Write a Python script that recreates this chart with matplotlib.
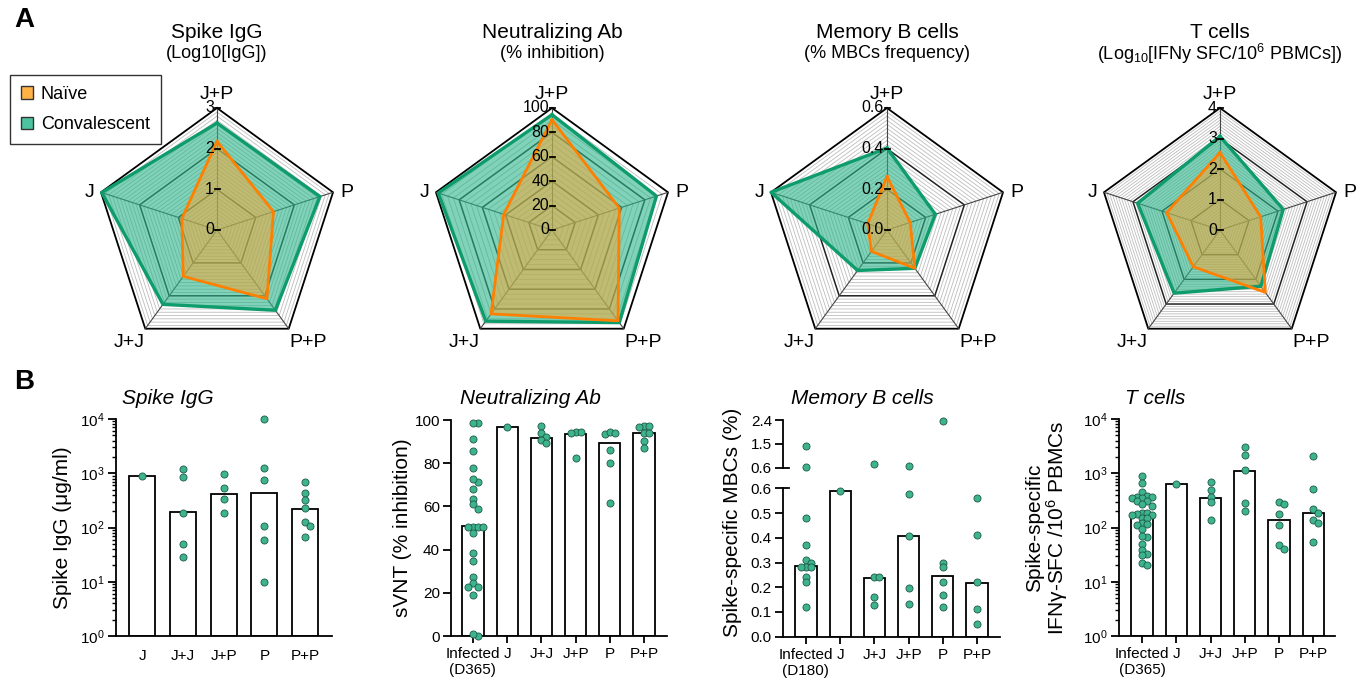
import numpy as np
import matplotlib
matplotlib.use('Agg')
import matplotlib.pyplot as plt
from matplotlib.patches import Patch

plt.rcParams['font.family'] = ['Liberation Sans', 'DejaVu Sans']
plt.rcParams['mathtext.fontset'] = 'custom'
plt.rcParams['mathtext.rm'] = 'Liberation Sans'
plt.rcParams['mathtext.it'] = 'Liberation Sans:italic'
plt.rcParams['mathtext.bf'] = 'Liberation Sans:bold'

W, H = 1369, 689

# ---- panel A: radar values, spokes clockwise from the top ----
spokes = ['J+P', 'P', 'P+P', 'J+J', 'J']
igg_conv = [2.63, 2.66, 2.44, 2.26, 2.98]
igg_naive = [2.18, 1.46, 2.09, 1.41, 0.91]
nab_conv = [94.5, 90.0, 93.8, 92.4, 98.0]
nab_naive = [90.4, 58.0, 92.0, 85.0, 41.6]
mbc_conv = [0.403, 0.25, 0.233, 0.246, 0.60]
mbc_naive = [0.263, 0.12, 0.233, 0.13, 0.10]
tc_conv = [3.07, 2.18, 2.28, 2.56, 2.84]
tc_naive = [2.54, 1.40, 2.53, 1.49, 1.84]

# ---- panel B: bars (median) and single values ----
igg_cats = ['J', 'J+J', 'J+P', 'P', 'P+P']
igg_bar = [900, 190, 412, 424, 218]
igg_pts = [[900],
           [1210, 850, 189, 49, 29],
           [965, 525, 329, 184],
           [9800, 1230, 760, 107, 59, 10],
           [680, 430, 315, 230, 126, 107, 68]]

nab_cats = ['Infected\n(D365)', 'J', 'J+J', 'J+P', 'P', 'P+P']
nab_bar = [50.8, 96.6, 91.8, 93.5, 89.2, 93.8]
nab_pts = [[98.5, 98.8, 91, 85.6, 78, 71.3, 72.8, 68, 63.6, 61, 59, 50.6, 50.6,
            50.6, 50.6, 47.8, 38.6, 34.7, 27.5, 24.4, 22.5, 22.5, 19, 0, 1],
           [96.6],
           [97.2, 94.1, 92.3, 90.7, 89.2],
           [94.3, 94.3, 94.1, 82.6],
           [93.4, 94.6, 94.1, 86.1, 80, 61.4],
           [97.4, 97.4, 96.9, 94.1, 94.1, 90.3, 87.2]]

mbc_cats = ['Infected\n(D180)', 'J', 'J+J', 'J+P', 'P', 'P+P']
mbc_bar = [0.287, 0.589, 0.236, 0.407, 0.247, 0.218]
mbc_pts = [[1.41, 0.64, 0.48, 0.37, 0.31, 0.30, 0.28, 0.28, 0.28, 0.24, 0.22, 0.12],
           [0.59],
           [0.74, 0.24, 0.24, 0.16, 0.13],
           [0.675, 0.578, 0.409, 0.198, 0.131],
           [2.36, 0.30, 0.28, 0.22, 0.17, 0.12],
           [0.56, 0.41, 0.22, 0.11, 0.051]]

tc_cats = ['Infected\n(D365)', 'J', 'J+J', 'J+P', 'P', 'P+P']
tc_bar = [170, 630, 350, 1110, 138, 184]
tc_pts = [[900, 660, 443, 384, 363, 353, 353, 363, 302, 302, 251, 270, 189, 184,
           179, 171, 171, 148, 148, 120, 112, 117, 93, 68, 71, 50, 39, 32, 31, 22.6, 20.5],
          [630],
          [700, 495, 372, 290, 140],
          [3000, 2160, 1150, 280, 200],
          [295, 270, 176, 112, 48, 40],
          [2040, 510, 218, 189, 138, 120, 54]]

ORANGE = '#FF8000'
GREEN_LINE = '#0E9C6C'
GREEN_FILL = '#2BB58A'
NAIVE_FILL = '#FFA530'
DOT = '#3DB38E'


def rect(l, t, r, b):
    return [l / W, 1 - b / H, (r - l) / W, (b - t) / H]


fig = plt.figure(figsize=(W / 100, H / 100), dpi=100)

R = 122.0
ang = np.deg2rad(90 - 72 * np.arange(5))
ca, sa = np.cos(ang), np.sin(ang)


def poly(r):
    r = np.asarray(r, dtype=float)
    x = np.append(r * ca, r[0] * ca[0])
    y = np.append(r * sa, r[0] * sa[0])
    return x, y


def radar(cx, cy, vmax, nrings, every, conv, naive, ticks, ticklabels, title, subtitle):
    S = 175
    ax = fig.add_axes(rect(cx - S, cy - S, cx + S, cy + S))
    ax.set_xlim(-S / R, S / R)
    ax.set_ylim(-S / R, S / R)
    ax.set_aspect('equal')
    ax.axis('off')
    for k in range(1, nrings + 1):
        r = np.full(5, k / nrings)
        if k == nrings:
            ax.plot(*poly(r), color='black', lw=1.3, zorder=1)
        elif k % every == 0:
            ax.plot(*poly(r), color='#222222', lw=1.1, zorder=1)
        else:
            ax.plot(*poly(r), color='#bdbdbd', lw=0.6, zorder=1)
    for i in range(5):
        ax.plot([0, ca[i]], [0, sa[i]], color='#444444', lw=0.8, zorder=1)
    c = np.array(conv) / vmax
    n = np.array(naive) / vmax
    ax.fill(*poly(c), color=GREEN_FILL, alpha=0.6, lw=0, zorder=2)
    ax.fill(*poly(n), color=NAIVE_FILL, alpha=0.5, lw=0, zorder=3)
    ax.plot(*poly(c), color=GREEN_LINE, lw=2.4, zorder=4)
    ax.plot(*poly(n), color=ORANGE, lw=2.0, zorder=5)
    for v, lab in zip(ticks, ticklabels):
        y = v / vmax
        ax.plot([-2.5 / R, 2.5 / R], [y, y], color='black', lw=1.3, zorder=6)
        ax.text(-3 / R, y, lab, ha='right', va='center', fontsize=11.5, zorder=7)
    # spoke labels
    off = 1 / R
    ax.text(0, 1 + 5 * off, spokes[0], ha='center', va='bottom', fontsize=14)
    ax.text(ca[1] + 7 * off, sa[1], spokes[1], ha='left', va='center', fontsize=14)
    ax.text(ca[2] + 1 * off, sa[2] - 5 * off, spokes[2], ha='left', va='top', fontsize=14)
    ax.text(ca[3] - 1 * off, sa[3] - 5 * off, spokes[3], ha='right', va='top', fontsize=14)
    ax.text(ca[4] - 7 * off, sa[4], spokes[4], ha='right', va='center', fontsize=14)
    fig.text(cx / W, 1 - 32 / H, title, ha='center', va='center', fontsize=15)
    fig.text(cx / W, 1 - 54 / H, subtitle, ha='center', va='center', fontsize=13)
    return ax


cy0 = 230
radar(217, cy0, 3, 30, 10, igg_conv, igg_naive, [0, 1, 2, 3], ['0', '1', '2', '3'],
      'Spike IgG', '(Log10[IgG])')
radar(552, cy0, 100, 20, 4, nab_conv, nab_naive, [0, 20, 40, 60, 80, 100],
      ['0', '20', '40', '60', '80', '100'], 'Neutralizing Ab', '(% inhibition)')
radar(887, cy0, 0.6, 30, 10, mbc_conv, mbc_naive, [0, 0.2, 0.4, 0.6],
      ['0.0', '0.2', '0.4', '0.6'], 'Memory B cells', '(% MBCs frequency)')
radar(1220, cy0, 4, 40, 10, tc_conv, tc_naive, [0, 1, 2, 3, 4], ['0', '1', '2', '3', '4'],
      'T cells', r'(Log$_{10}$[IFNy SFC/10$^{6}$ PBMCs])')

leg = fig.legend(handles=[Patch(facecolor='#FFB347', edgecolor='#333333', label='Naïve'),
                          Patch(facecolor='#4DC4A0', edgecolor='#333333', label='Convalescent')],
                 loc='upper left', bbox_to_anchor=(10 / W, 1 - 75 / H), frameon=True,
                 fancybox=False, edgecolor='black', fontsize=13, handlelength=0.7,
                 handleheight=0.7, handletextpad=0.4, borderpad=0.6, labelspacing=0.75,
                 borderaxespad=0)
leg.get_frame().set_linewidth(1.0)

fig.text(24 / W, 1 - 20 / H, 'A', ha='center', va='center', fontsize=20, fontweight='bold')
fig.text(24 / W, 1 - 382 / H, 'B', ha='center', va='center', fontsize=20, fontweight='bold')


# ---- panel B helpers ----
def swarm(ax, xc, vals, d=5.0):
    # simple beeswarm: spread points sideways only when they would overlap
    vals = np.asarray(vals, dtype=float)
    ys = ax.transData.transform(np.column_stack([np.full(len(vals), xc), vals]))[:, 1]
    order = np.argsort(-vals)
    placed = []
    offs = np.zeros(len(vals))
    for i in order:
        best, best_gap = 0.0, -1
        for k in [0, 1, -1, 2, -2]:
            ox = k * d
            gap = min([np.hypot(ox - px, ys[i] - py) for px, py in placed] or [99])
            if gap >= 0.95 * d:
                best = ox
                break
            if gap > best_gap + 0.5:
                best, best_gap = ox, gap
        offs[i] = best
        placed.append((best, ys[i]))
    x0 = ax.transData.transform((0, 1))[0]
    x1 = ax.transData.transform((1, 1))[0]
    return xc + offs / (x1 - x0)


def style(ax, xticklen=5):
    for s in ['top', 'right']:
        ax.spines[s].set_visible(False)
    for s in ['left', 'bottom']:
        ax.spines[s].set_linewidth(1.3)
    ax.tick_params(axis='y', which='major', length=6, width=1.3, labelsize=11, pad=2)
    ax.tick_params(axis='y', which='minor', length=3, width=1.0)
    ax.tick_params(axis='x', length=xticklen, width=1.3, labelsize=11, pad=3 if xticklen else 9)


def dots(ax, xs, vals):
    ax.scatter(xs, vals, s=26, color=DOT, edgecolor='#1f5a47', linewidth=0.6,
               zorder=3, clip_on=False)


def bar_panel(ax, cats, bars, pts, log, xlim, width):
    x = np.arange(len(cats))
    if log:
        ax.set_yscale('log')
        ax.set_ylim(1, 1e4)
        ax.bar(x, np.array(bars) - 1, bottom=1, width=width, color='white',
               edgecolor='black', lw=1.3, zorder=1)
    else:
        ax.bar(x, bars, width=width, color='white', edgecolor='black', lw=1.3, zorder=1)
    ax.set_xlim(*xlim)
    ax.set_xticks(x)
    ax.set_xticklabels(cats)
    for i, v in enumerate(pts):
        dots(ax, swarm(ax, i, v), v)


# Spike IgG
ax1 = fig.add_axes(rect(116, 419, 332, 636))
style(ax1, xticklen=0)
bar_panel(ax1, igg_cats, igg_bar, igg_pts, True, (-0.64, 4.66), 0.64)
ax1.set_ylabel('Spike IgG (μg/ml)', fontsize=15)
ax1.yaxis.set_label_coords(-0.204, 0.5)
fig.text(168 / W, 1 - 398 / H, 'Spike IgG', ha='center', va='center', fontsize=15, style='italic')

# Neutralizing Ab
ax2 = fig.add_axes(rect(451, 420, 667, 636))
style(ax2)
ax2.set_ylim(0, 100)
ax2.set_yticks([0, 20, 40, 60, 80, 100])
bar_panel(ax2, nab_cats, nab_bar, nab_pts, False, (-0.64, 5.67), 0.62)
ax2.set_ylabel('sVNT (% inhibition)', fontsize=15)
ax2.yaxis.set_label_coords(-0.18, 0.5)
fig.text(530 / W, 1 - 398 / H, 'Neutralizing Ab', ha='center', va='center', fontsize=15,
         style='italic')

# Memory B cells (broken axis)
ax3 = fig.add_axes(rect(783, 488.3, 1000, 636.7))
ax3u = fig.add_axes(rect(783, 420, 1000, 467.7))
style(ax3)
ax3.set_ylim(0, 0.6)
ax3.set_yticks(np.arange(0, 0.61, 0.1))
ax3.set_yticklabels(['%.1f' % v for v in np.arange(0, 0.61, 0.1)])
ax3u.set_ylim(0.6, 2.4)
ax3u.set_xlim(-0.67, 5.67)
ax3u.set_yticks([0.6, 1.5, 2.4])
ax3u.set_yticklabels(['0.6', '1.5', '2.4'])
for s in ['top', 'right', 'bottom']:
    ax3u.spines[s].set_visible(False)
ax3u.spines['left'].set_linewidth(1.3)
ax3u.tick_params(axis='y', length=6, width=1.3, labelsize=11, pad=2)
ax3u.tick_params(axis='x', bottom=False, labelbottom=False)
x3 = np.arange(len(mbc_cats))
ax3.bar(x3, mbc_bar, width=0.62, color='white', edgecolor='black', lw=1.3, zorder=1)
ax3.set_xlim(-0.67, 5.67)
ax3.set_xticks(x3)
ax3.set_xticklabels(mbc_cats)
for i, v in enumerate(mbc_pts):
    v = np.array(v)
    lo, hi = v[v <= 0.6], v[v > 0.6]
    if len(lo):
        dots(ax3, swarm(ax3, i, lo), lo)
    if len(hi):
        dots(ax3u, swarm(ax3u, i, hi), hi)
# break marks crossing the spine
ax3.plot([0, 6 / 217], [1, 1], transform=ax3.transAxes, color='black', lw=1.3, clip_on=False)
ax3u.plot([0, 6 / 217], [0, 0], transform=ax3u.transAxes, color='black', lw=1.3, clip_on=False)
ax3.set_ylabel('Spike-specific MBCs (%)', fontsize=15)
ax3.yaxis.set_label_coords(-0.19, 0.77)
fig.text(862 / W, 1 - 398 / H, 'Memory B cells', ha='center', va='center', fontsize=15,
         style='italic')

# T cells
ax4 = fig.add_axes(rect(1119, 419, 1335, 636))
style(ax4)
bar_panel(ax4, tc_cats, tc_bar, tc_pts, True, (-0.67, 5.63), 0.62)
ax4.set_ylabel('Spike-specific\nIFNγ-SFC /10$^{6}$ PBMCs', fontsize=15, linespacing=1.0)
ax4.yaxis.set_label_coords(-0.225, 0.5)
fig.text(1155 / W, 1 - 398 / H, 'T cells', ha='center', va='center', fontsize=15,
         style='italic')

fig.savefig('out.png', dpi=100)
